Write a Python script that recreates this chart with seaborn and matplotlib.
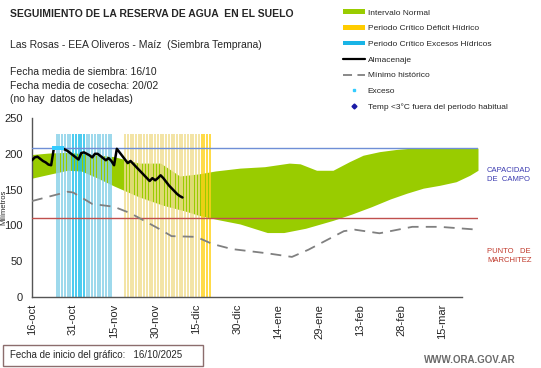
import numpy as np
import pandas as pd
import matplotlib
matplotlib.use("Agg")
import matplotlib.pyplot as plt
import seaborn as sns
from matplotlib.lines import Line2D
from matplotlib.patches import Patch, Rectangle

sns.set_style("white")
plt.rcParams['font.family'] = ['Liberation Sans', 'DejaVu Sans']

# ---------------- data (days since 16-oct) ----------------
tick_days = [0, 15, 30, 45, 60, 75, 90, 105, 120, 135, 150]
tick_labels = ["16-oct", "31-oct", "15-nov", "30-nov", "15-dic", "30-dic",
               "14-ene", "29-ene", "13-feb", "28-feb", "15-mar"]

band_upper_days = [0, 6, 13, 22, 30, 39, 47, 54, 61, 67, 76, 85, 94, 98, 104, 110, 116, 121, 127, 133, 139, 163]
band_upper_vals = [199, 201, 202, 199, 196, 187, 187, 169, 172, 176, 180, 182, 187, 186, 177, 177, 189, 198, 203, 206, 208, 208]
band_lower_days = [0, 7, 13, 18, 24, 30, 39, 48, 56, 61, 68, 76, 86, 92, 100, 110, 117, 124, 131, 137, 143, 149, 155, 160, 163]
band_lower_vals = [166, 172, 177, 176, 166, 155, 140, 128, 120, 114, 108, 102, 90, 90, 96, 107, 116, 126, 137, 145, 152, 156, 161, 170, 177]

min_days = [0, 8, 13, 15, 22, 30, 36, 47, 51, 60, 66, 73, 86, 95, 101, 108, 114, 118, 127, 139, 149, 163]
min_vals = [134, 142, 147, 146, 130, 126, 117, 94, 85, 84, 74, 67, 61, 56, 66, 80, 92, 94, 89, 98, 98, 94]

alm_vals = [191, 195, 196, 193, 190, 188, 185, 184, 208, 208, 208, 208, 206, 204, 201, 198,
            195, 192, 201, 202, 200, 198, 195, 200, 200, 197, 194, 191, 194, 190, 184, 207,
            202, 197, 192, 187, 190, 186, 182, 178, 174, 170, 166, 162, 166, 163, 166, 170,
            166, 161, 156, 152, 148, 144, 141, 139]
alm_days = list(range(len(alm_vals)))

exceso_days = [8, 9, 10, 11]
exceso_vals = [208, 208, 208, 208]

excess_period_days = list(range(9, 30))
excess_strong_days = [15, 16, 17, 18, 19]
deficit_period_days = list(range(34, 66))
deficit_strong_days = [62, 63, 64, 65]

capacidad_campo = 208
punto_marchitez = 110

# ---------------- figure ----------------
fig = plt.figure(figsize=(5.41, 3.68), dpi=100)
ax = fig.add_axes([32/541, 71/368, 446/541, 179/368])

xs = np.arange(0, 164)
ax.fill_between(xs, np.interp(xs, band_lower_days, band_lower_vals),
                np.interp(xs, band_upper_days, band_upper_vals),
                color="#99cc00", lw=0, zorder=1)

for d in excess_period_days:
    c = "#22c0ec" if d in excess_strong_days else "#86d0e8"
    ax.vlines(d, 0, 227, color=c, lw=1.15, zorder=2)
for d in deficit_period_days:
    c = "#ffd21a" if d in deficit_strong_days else "#f0de90"
    ax.vlines(d, 0, 227, color=c, lw=1.15, zorder=2)

ax.axhline(capacidad_campo, color="#6f8fd6", lw=1.0, zorder=3)
ax.axhline(punto_marchitez, color="#c0504d", lw=1.0, zorder=3)

df_min = pd.DataFrame({"dia": min_days, "mm": min_vals})
sns.lineplot(data=df_min, x="dia", y="mm", ax=ax, color="#808080", lw=1.3,
             linestyle=(0, (6, 4)), zorder=4)
df_alm = pd.DataFrame({"dia": alm_days, "mm": alm_vals})
sns.lineplot(data=df_alm, x="dia", y="mm", ax=ax, color="black", lw=1.8, zorder=5)
ax.scatter(exceso_days, exceso_vals, marker="s", s=9, color="#33ccff", zorder=6, lw=0)

ax.set_xlim(0, 163)
ax.set_ylim(0, 250)
ax.set_yticks([0, 50, 100, 150, 200, 250])
ax.set_xticks(tick_days)
ax.set_xticklabels(tick_labels, rotation=90)
ax.tick_params(axis="both", labelsize=8, length=3, direction="out", color="#555555", width=0.8)
ax.tick_params(axis="x", pad=2)
ax.set_xlabel("")
ax.set_ylabel("Milímetros", fontsize=5.5, labelpad=0)
ax.yaxis.set_label_coords(-0.055, 0.5)
for s in ["top", "right"]:
    ax.spines[s].set_visible(False)
for s in ["left", "bottom"]:
    ax.spines[s].set_color("#555555")
    ax.spines[s].set_linewidth(1.0)
ax.spines["bottom"].set_bounds(0, 157)

# ---------------- texts ----------------
def ft(x, y, s, **kw):
    fig.text(x/541, 1 - y/368, s, **kw)

ft(10, 14, "SEGUIMIENTO DE LA RESERVA DE AGUA  EN EL SUELO", fontsize=7.5, fontweight="bold", va="center")
ft(10, 45, "Las Rosas - EEA Oliveros - Maíz  (Siembra Temprana)", fontsize=7.5, va="center")
ft(10, 72, "Fecha media de siembra: 16/10", fontsize=7.5, va="center")
ft(10, 86, "Fecha media de cosecha: 20/02", fontsize=7.5, va="center")
ft(10, 99, "(no hay  datos de heladas)", fontsize=7.5, va="center")

ft(487, 175, "CAPACIDAD\nDE  CAMPO", fontsize=5.5, color="#3b3bb0", va="center", linespacing=1.3)
ft(487, 256, "PUNTO   DE\nMARCHITEZ", fontsize=5.5, color="#c0392b", va="center", linespacing=1.3)

ft(424, 360, "WWW.ORA.GOV.AR", fontsize=7, color="#6a6a6a", va="center", fontweight="bold")
fig.patches.append(Rectangle((3/541, 1 - 366/368), 200/541, 21/368, transform=fig.transFigure,
                             fill=False, edgecolor="#8c6d6d", lw=1.0))
ft(10, 355, "Fecha de inicio del gráfico:   16/10/2025", fontsize=7, va="center")

# ---------------- legend ----------------
handles = [
    Patch(facecolor="#99cc00", edgecolor="none"),
    Patch(facecolor="#ffcc00", edgecolor="none"),
    Patch(facecolor="#19b4e6", edgecolor="none"),
    Line2D([], [], color="black", lw=1.6),
    Line2D([], [], color="#808080", lw=1.3, linestyle=(0, (5, 3))),
    Line2D([], [], color="#33ccff", marker="s", ms=2, lw=0),
    Line2D([], [], color="#1a1aa6", marker="D", ms=2.5, lw=0),
]
labels = ["Intervalo Normal", "Periodo Crítico Déficit Hídrico", "Periodo Crítico Excesos Hídricos",
          "Almacenaje", "Mínimo histórico", "Exceso", "Temp <3°C fuera del periodo habitual"]
fig.legend(handles, labels, loc="upper left", bbox_to_anchor=(340/541, 1 - 6/368),
           frameon=False, fontsize=6, handlelength=2.6, handleheight=0.5,
           labelspacing=1.0, handletextpad=0.3, borderaxespad=0)

fig.savefig("out.png", dpi=100)
